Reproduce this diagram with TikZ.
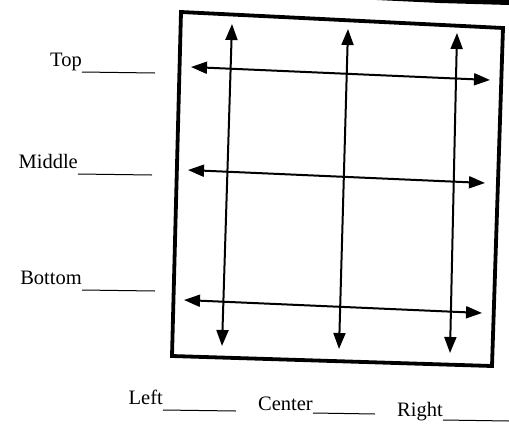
\documentclass[tikz,border=0pt]{standalone}
\usepackage{fontspec}
\setmainfont{Liberation Serif}
\usetikzlibrary{arrows.meta}
\begin{document}
\begin{tikzpicture}[x=1pt,y=-1pt,
  arr/.style={line width=2pt,{Triangle[length=16pt,width=12pt]}-{Triangle[length=16pt,width=12pt]}},
  lbl/.style={inner sep=0pt,font=\fontsize{20.5}{20.5}\selectfont,anchor=base east},
  uline/.style={line width=1pt},
  frame/.style={line width=3.8pt,line join=miter}]
\useasboundingbox (0,0) rectangle (509,429);
% scan artefact at top right
\fill (377,0) -- (509,0) -- (509,5) -- (440,3) -- cycle;
% frame
\coordinate (tl) at (181,12);
\coordinate (tr) at (503,28);
\coordinate (br) at (492,366);
\coordinate (bl) at (172,356);
\draw[frame] (tl) -- (tr) -- (br) -- (bl) -- cycle;
% vertical arrows
\coordinate (lt) at (232,24);  \coordinate (lb) at (222,346);
\coordinate (ct) at (348,29);  \coordinate (cb) at (339,349);
\coordinate (rt) at (457,33);  \coordinate (rb) at (450,353);
\draw[arr] (lt) -- (lb);
\draw[arr] (ct) -- (cb);
\draw[arr] (rt) -- (rb);
% horizontal arrows
\coordinate (tL) at (191,67);  \coordinate (tR) at (490,80);
\coordinate (mL) at (188,170); \coordinate (mR) at (485,183);
\coordinate (bL) at (184,300); \coordinate (bR) at (482,313);
\draw[arr] (tL) -- (tR);
\draw[arr] (mL) -- (mR);
\draw[arr] (bL) -- (bR);
% labels
\node[lbl] (top) at (82,66) {Top};
\node[lbl] (mid) at (78,168) {Middle};
\node[lbl] (bot) at (82,284) {Bottom};
\node[lbl] (lef) at (163,404) {Left};
\node[lbl] (cen) at (313,410) {Center};
\node[lbl] (rig) at (443,416) {Right};
\coordinate (topE) at (155,73);
\coordinate (midE) at (152,175);
\coordinate (botE) at (155,291);
\coordinate (lefE) at (236,411);
\coordinate (cenE) at (375,414);
\coordinate (rigE) at (509,421);
\draw[uline] (top.base east) ++(0,6) -- (topE);
\draw[uline] (mid.base east) ++(0,6) -- (midE);
\draw[uline] (bot.base east) ++(0,6) -- (botE);
\draw[uline] (lef.base east) ++(0,6) -- (lefE);
\draw[uline] (cen.base east) ++(0,3) -- (cenE);
\draw[uline] (rig.base east) ++(0,4) -- (rigE);
\end{tikzpicture}
\end{document}
